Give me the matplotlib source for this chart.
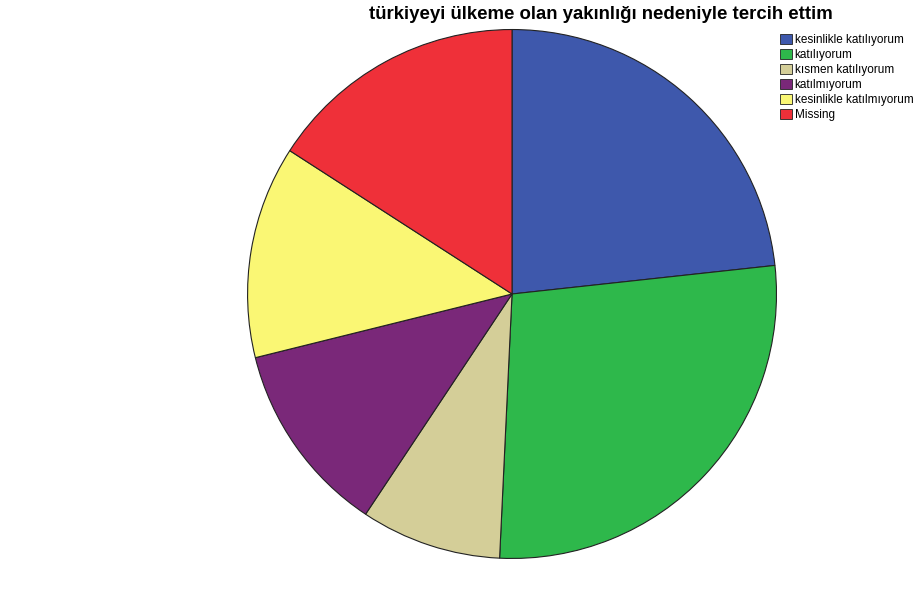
import matplotlib
matplotlib.use("Agg")
import matplotlib.pyplot as plt
from matplotlib.patches import Patch

plt.rcParams['font.family'] = ['Liberation Sans', 'DejaVu Sans']

# yüzdeler (resimden okunan tahmini değerler)
labels = ['kesinlikle katılıyorum', 'katılıyorum', 'kısmen katılıyorum',
          'katılmıyorum', 'kesinlikle katılmıyorum', 'Missing']
values = [23.3, 27.5, 8.6, 11.8, 13.0, 15.9]
colors = ['#3E58AC', '#2EB84B', '#D4CE98', '#7A2879', '#FAF774', '#EF3039']
title = 'türkiyeyi ülkeme olan yakınlığı nedeniyle tercih ettim'

fig = plt.figure(figsize=(9.15, 5.99), dpi=100)
ax = fig.add_axes([0.27, 0.0668, 0.5792, 0.8848])
ax.pie(values, colors=colors, startangle=90, counterclock=False,
       wedgeprops=dict(edgecolor='#222222', linewidth=0.8))
ax.set_aspect('auto')
ax.set_xlim(-1.002, 1.002)
ax.set_ylim(-1.002, 1.002)

fig.text(0.657, 0.976, title, ha='center', va='center',
         fontsize=13.4, fontweight='bold')

handles = [Patch(facecolor=c, edgecolor='#222222', linewidth=0.6) for c in colors]
fig.legend(handles, labels, loc='upper left', bbox_to_anchor=(0.853, 0.943),
           frameon=False, fontsize=8.5, handlelength=0.95, handleheight=0.95,
           handletextpad=0.25, labelspacing=0.24, borderpad=0, borderaxespad=0)

fig.savefig('out.png', dpi=100)
